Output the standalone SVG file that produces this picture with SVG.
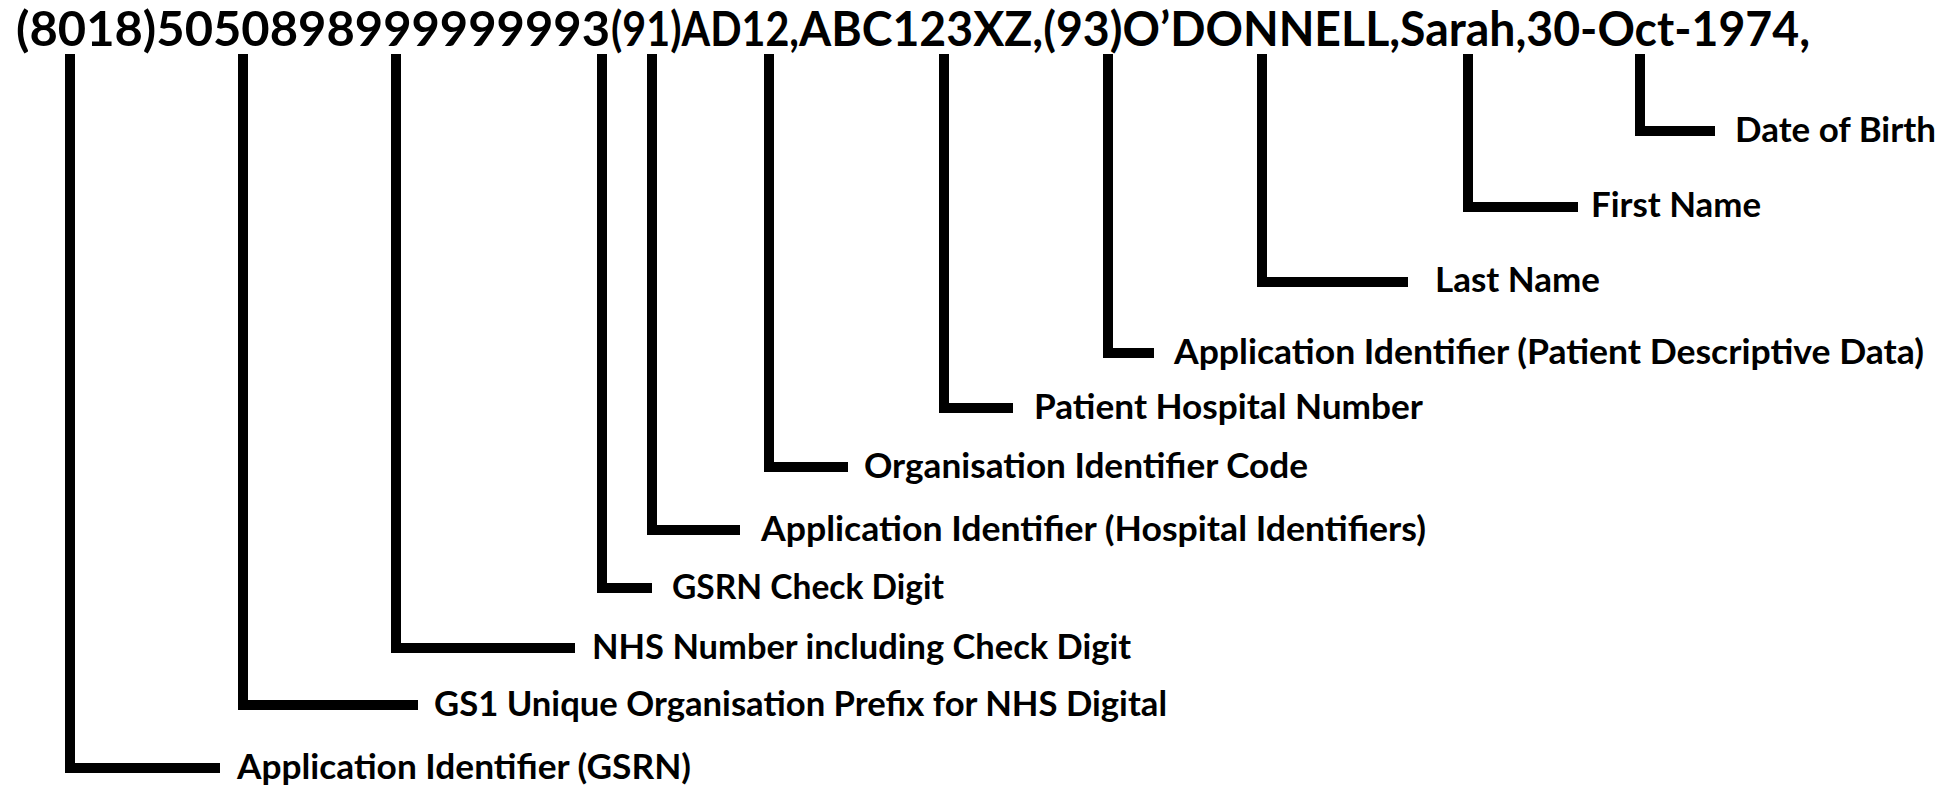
<svg xmlns="http://www.w3.org/2000/svg" width="1959" height="785" viewBox="0 0 1959 785">
<style>
.hdr{font-family:Lato,"Open Sans","Liberation Sans",sans-serif;font-weight:700;font-size:47.5px;fill:#000}
.lbl{font-family:Lato,"Open Sans","Liberation Sans",sans-serif;font-weight:700;font-size:33.5px;fill:#000}
.con{fill:none;stroke:#000;stroke-width:10;stroke-linejoin:miter;stroke-linecap:butt}
</style>
<rect width="1959" height="785" fill="#fff"/>
<g id="header">
<text class="hdr" y="46"><tspan x="16" textLength="594" lengthAdjust="spacingAndGlyphs">(8018)5050898999999993</tspan><tspan x="611" textLength="188" lengthAdjust="spacingAndGlyphs">(91)AD12,</tspan><tspan x="799" textLength="1011" lengthAdjust="spacingAndGlyphs">ABC123XZ,(93)O’DONNELL,Sarah,30-Oct-1974,</tspan></text>
</g>
<g id="connectors">
<path class="con" d="M70 54V768H220"/>
<path class="con" d="M243 54V705H418"/>
<path class="con" d="M396 54V648H575"/>
<path class="con" d="M602 54V588H652"/>
<path class="con" d="M652 54V530H740"/>
<path class="con" d="M769 54V467H848"/>
<path class="con" d="M944 54V408H1013"/>
<path class="con" d="M1108 54V353H1154"/>
<path class="con" d="M1262 54V282H1408"/>
<path class="con" d="M1468 54V207H1578"/>
<path class="con" d="M1640 54V131H1715"/>
</g>
<g id="n-ai-gsrn"><text class="lbl" x="237" y="779" textLength="454" lengthAdjust="spacingAndGlyphs">Application Identifier (GSRN)</text></g>
<g id="n-gs1"><text class="lbl" x="434" y="716" textLength="733" lengthAdjust="spacingAndGlyphs">GS1 Unique Organisation Prefix for NHS Digital</text></g>
<g id="n-nhs"><text class="lbl" x="592" y="659" textLength="539" lengthAdjust="spacingAndGlyphs">NHS Number including Check Digit</text></g>
<g id="n-gsrn-check"><text class="lbl" x="672" y="599" textLength="272" lengthAdjust="spacingAndGlyphs">GSRN Check Digit</text></g>
<g id="n-ai-hosp"><text class="lbl" x="761" y="541" textLength="665" lengthAdjust="spacingAndGlyphs">Application Identifier (Hospital Identifiers)</text></g>
<g id="n-org"><text class="lbl" x="864" y="478" textLength="444" lengthAdjust="spacingAndGlyphs">Organisation Identifier Code</text></g>
<g id="n-phn"><text class="lbl" x="1034" y="419" textLength="389" lengthAdjust="spacingAndGlyphs">Patient Hospital Number</text></g>
<g id="n-ai-pdd"><text class="lbl" x="1174" y="364" textLength="750" lengthAdjust="spacingAndGlyphs">Application Identifier (Patient Descriptive Data)</text></g>
<g id="n-last"><text class="lbl" x="1435" y="292" textLength="165" lengthAdjust="spacingAndGlyphs">Last Name</text></g>
<g id="n-first"><text class="lbl" x="1591" y="217" textLength="170" lengthAdjust="spacingAndGlyphs">First Name</text></g>
<g id="n-dob"><text class="lbl" x="1735" y="142" textLength="201" lengthAdjust="spacingAndGlyphs">Date of Birth</text></g>
</svg>
